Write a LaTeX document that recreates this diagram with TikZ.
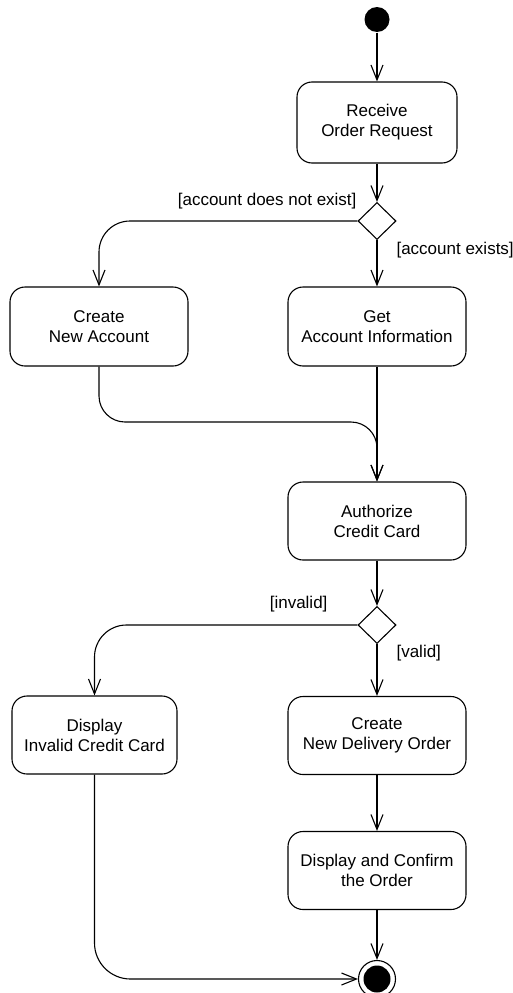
\documentclass[tikz,border=0pt]{standalone}
\usepackage{fontspec}
\setmainfont{Liberation Sans}
\usetikzlibrary{arrows.meta,shapes.geometric}

\tikzset{
    action/.style={draw, rounded corners=15pt, minimum width=178pt, minimum height=78pt,
        align=center, inner sep=2pt, font=\fontsize{17}{20}\selectfont},
    decision/.style={draw, diamond, minimum width=38pt, minimum height=37pt, inner sep=0pt},
    guard/.style={inner sep=0pt, font=\fontsize{17}{20}\selectfont},
    startnode/.style={circle, fill, minimum size=25pt, inner sep=0pt},
    endnode/.style={draw, circle, minimum size=37pt, inner sep=0pt},
}

\begin{document}
\begin{tikzpicture}[x=1pt, y=-1pt, line width=1.1pt, >={Straight Barb[length=15pt, width=12pt]}]
    \useasboundingbox (0,0) rectangle (512,993);

    \node[startnode] (start) at (377,19.5) {};
    \node[action, minimum width=160pt, minimum height=81pt] (receive) at (377,122.5) {Receive\\Order Request};
    \node[decision] (d1) at (377,221) {};
    \node[action, minimum height=79pt] (newacc) at (99,326.5) {Create\\New Account};
    \node[action, minimum height=79pt] (getacc) at (377,326.5) {Get\\Account Information};
    \coordinate (join) at (377,422);
    \node[action] (auth) at (377,521) {Authorize\\Credit Card};
    \node[decision] (d2) at (377,625) {};
    \node[action, minimum width=165pt] (invalid) at (94.5,735) {Display\\Invalid Credit Card};
    \node[action] (delivery) at (377,735.5) {Create\\New Delivery Order};
    \node[action] (confirm) at (377,870.5) {Display and Confirm\\the Order};
    \node[endnode] (stop) at (377,979) {};
    \fill (stop.center) circle (13.5pt);

    % guards
    \node[guard, anchor=east] (g1) at (357,201) {[account does not exist]};
    \node[guard, anchor=west] (g2) at (396,250) {[account exists]};
    \node[guard, anchor=east] (g3) at (328,604) {[invalid]};
    \node[guard, anchor=west] (g4) at (396,653) {[valid]};

    \draw[->] (start) -- (receive);
    \draw[->] (receive) -- (d1);
    \draw[->, rounded corners=31pt] (d1.west) -| (newacc.north);
    \draw[->] (d1.south) -- (getacc.north);
    \draw[->, rounded corners=26pt] (newacc.south) |- (join) -- (auth.north);
    \draw[->] (getacc) -- (auth);
    \draw[->] (auth) -- (d2);
    \draw[->, rounded corners=32pt] (d2.west) -| (invalid.north);
    \draw[->] (d2.south) -- (delivery.north);
    \draw[->] (delivery) -- (confirm);
    \draw[->] (confirm) -- (stop);
    \draw[->, rounded corners=36pt] (invalid.south) |- (stop.west);
\end{tikzpicture}
\end{document}
